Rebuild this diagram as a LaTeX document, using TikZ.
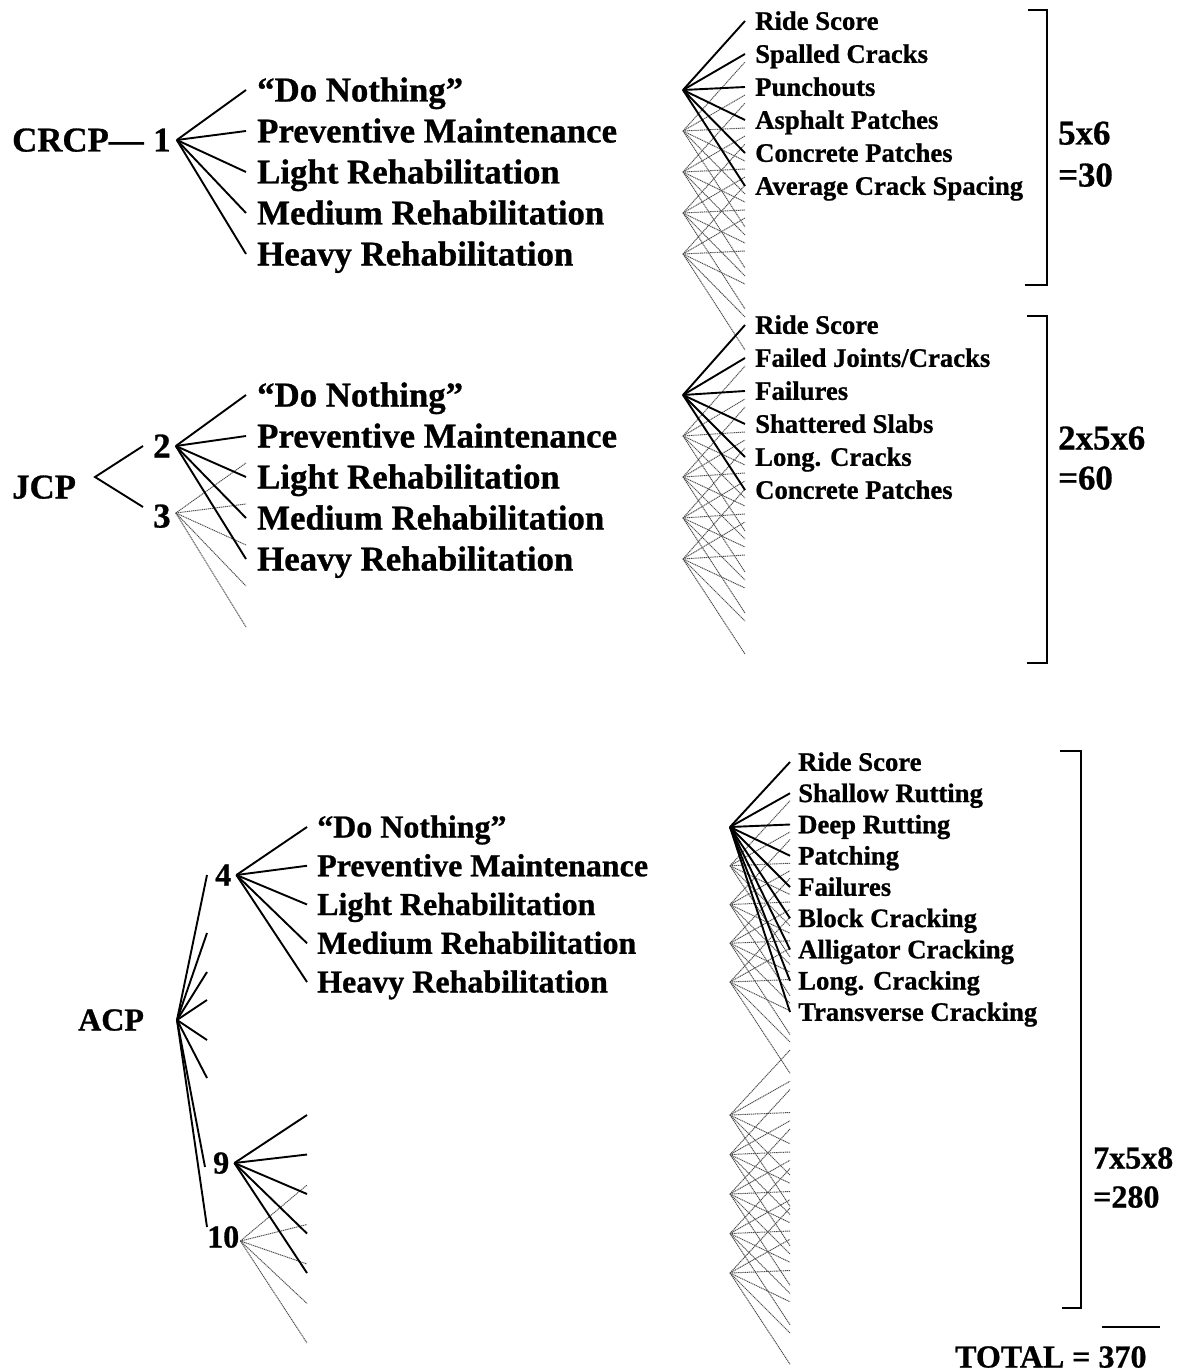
\documentclass[tikz,border=0pt]{standalone}
\usepackage{fontspec}
\setmainfont{Liberation Serif}[BoldFeatures={FakeBold=0.8}]
\begin{document}
\begin{tikzpicture}[x=1pt,y=-1pt,
  lab/.style={inner sep=0pt, anchor=west, text depth=0pt},
  bigtxt/.style={lab, font=\fontsize{34.8}{40}\selectfont\bfseries, text height=23pt},
  acptxt/.style={lab, font=\fontsize{32}{36}\selectfont\bfseries, text height=21pt},
  meastxt/.style={lab, font=\fontsize{26.7}{30}\selectfont\bfseries, text height=17.6pt},
  link/.style={draw=black, line width=1.9pt},
  ghost/.style={draw=black!70, line width=0.95pt, dash pattern=on 1.2pt off 0.7pt},
  bracket/.style={draw=black, line width=1.8pt}
]
\useasboundingbox (0,0) rectangle (1177,1372);
\fill[white] (0,0) rectangle (1177,1372);

% ================= CRCP =================
\node[bigtxt] (crcp) at (12,140) {CRCP—};
\node[bigtxt] (n1) at (153,140) {1};
\foreach \t [count=\i] in {“Do Nothing”, Preventive Maintenance, Light Rehabilitation, Medium Rehabilitation, Heavy Rehabilitation}
  \node[bigtxt] (ct\i) at (257,{90+41*(\i-1)}) {\t};
\foreach \m [count=\j] in {Ride Score, Spalled Cracks, Punchouts, Asphalt Patches, Concrete Patches, Average Crack Spacing}
  \node[meastxt] (cm\j) at (755,{21+33*(\j-1)}) {\m};
\foreach \i in {1,...,5} {
  \coordinate (co\i) at (683,{90+41*(\i-1)});
  \foreach \j in {1,...,6}
    \coordinate (ce\i-\j) at (745,{90+41*(\i-1)-69+33*(\j-1)});
}
\foreach \i in {2,...,5} \foreach \j in {1,...,6} \draw[ghost] (co\i) -- (ce\i-\j);
\foreach \i in {1,...,5} \draw[link] ([xshift=6pt]n1.east) -- ([xshift=-11pt]ct\i.west);
\foreach \j in {1,...,6} \draw[link] (co1) -- ([xshift=-10pt]cm\j.west);
\draw[bracket] (1028,10) -| (1047,285) -- (1025,285);
\node[bigtxt] (cf1) at (1058,133) {5x6};
\node[bigtxt] (cf2) at (1058,175) {=30};

% ================= JCP =================
\node[bigtxt] (jcp) at (12,487) {JCP};
\coordinate (jj) at (95,477);
\node[bigtxt] (n2) at (153,446) {2};
\node[bigtxt] (n3) at (153,516) {3};
\draw[link] ([xshift=-10pt]n2.west) -- (jj) -- ([shift={(-10,-9)}]n3.west);
\foreach \t [count=\i] in {“Do Nothing”, Preventive Maintenance, Light Rehabilitation, Medium Rehabilitation, Heavy Rehabilitation}
  \node[bigtxt] (jt\i) at (257,{395+41*(\i-1)}) {\t};
\foreach \i in {1,...,5} \coordinate (j3e\i) at (246,{463+41*(\i-1)});
\foreach \i in {1,...,5} \draw[ghost] ([shift={(5,-3)}]n3.east) -- (j3e\i);
\foreach \i in {1,...,5} \draw[link] ([xshift=5pt]n2.east) -- ([xshift=-11pt]jt\i.west);
\foreach \m [count=\j] in {Ride Score, Failed Joints/Cracks, Failures, Shattered Slabs, Long. Cracks, Concrete Patches}
  \node[meastxt] (jm\j) at (755,{325+33*(\j-1)}) {\m};
\foreach \i in {1,...,5} {
  \coordinate (jo\i) at (683,{395+41*(\i-1)});
  \foreach \j in {1,...,6}
    \coordinate (je\i-\j) at (745,{395+41*(\i-1)-70+33*(\j-1)});
}
\foreach \i in {2,...,5} \foreach \j in {1,...,6} \draw[ghost] (jo\i) -- (je\i-\j);
\foreach \j in {1,...,6} \draw[link] (jo1) -- ([xshift=-10pt]jm\j.west);
\draw[bracket] (1027,316) -| (1047,663) -- (1027,663);
\node[bigtxt] (jf1) at (1058,438) {2x5x6};
\node[bigtxt] (jf2) at (1058,478) {=60};

% ================= ACP =================
\node[acptxt] (acp) at (78,1020) {ACP};
\coordinate (aj) at (177,1020);
\node[acptxt] (n4) at (215,875) {4};
\node[acptxt] (n9) at (213,1163) {9};
\node[acptxt] (n10) at (207,1237) {10};
\foreach \y [count=\k] in {933,972,1000,1040,1078} \coordinate (af\k) at (207,\y);
\draw[link] (aj) -- ([xshift=-8pt]n4.west);
\foreach \k in {1,...,5} \draw[link] (aj) -- (af\k);
\draw[link] (aj) -- ([shift={(-8,4)}]n9.west);
\draw[link] (aj) -- ([shift={(0,-10)}]n10.west);

\foreach \t [count=\i] in {“Do Nothing”, Preventive Maintenance, Light Rehabilitation, Medium Rehabilitation, Heavy Rehabilitation}
  \node[acptxt] (at\i) at (317,{827+38.75*(\i-1)}) {\t};
\foreach \i in {1,...,5} {
  \coordinate (a9e\i) at (307,{1115+39.5*(\i-1)});
  \coordinate (a10e\i) at (307,{1185+39.5*(\i-1)});
}
\foreach \i in {1,...,5} \draw[ghost] ([shift={(1,4)}]n10.east) -- (a10e\i);
\foreach \i in {1,...,5} \draw[link] ([xshift=5pt]n4.east) -- ([xshift=-10pt]at\i.west);
\foreach \i in {1,...,5} \draw[link] ([xshift=5pt]n9.east) -- (a9e\i);

\foreach \m [count=\j] in {Ride Score, Shallow Rutting, Deep Rutting, Patching, Failures, Block Cracking, Alligator Cracking, Long. Cracking, Transverse Cracking}
  \node[meastxt] (am\j) at (798,{762+31.25*(\j-1)}) {\m};
\foreach \i in {1,...,5} {
  \coordinate (ao\i) at (730,{827+38.75*(\i-1)});
  \coordinate (aq\i) at (730,{1115+39.5*(\i-1)});
  \foreach \k in {1,...,6} {
    \coordinate (ae\i-\k) at (790,{827+38.75*(\i-1)-65+31.25*(\k-1)});
    \coordinate (aqe\i-\k) at (790,{1115+39.5*(\i-1)-65+31.25*(\k-1)});
  }
}
\foreach \i in {2,...,5} \foreach \k in {1,...,6} \draw[ghost] (ao\i) -- (ae\i-\k);
\foreach \i in {1,...,5} \foreach \k in {1,...,6} \draw[ghost] (aq\i) -- (aqe\i-\k);
\foreach \j in {1,...,9} \draw[link] (ao1) -- ([xshift=-8pt]am\j.west);
\draw[bracket] (1060,751) -| (1081,1308) -- (1062,1308);
\node[acptxt] (af1) at (1093,1158) {7x5x8};
\node[acptxt] (af2) at (1093,1197) {=280};

% ================= total =================
\node[acptxt] (total) at (955,1357) {TOTAL = 370};
\draw[bracket] (1102,1327) -- (1160,1327);
\end{tikzpicture}
\end{document}
